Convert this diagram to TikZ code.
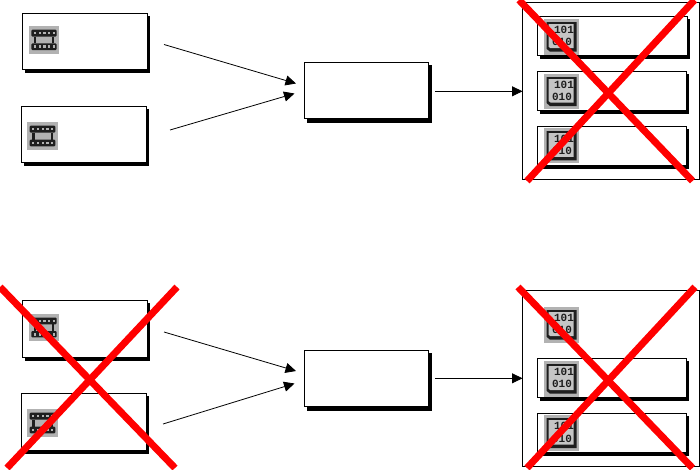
\documentclass[tikz,border=0pt]{standalone}
\usepackage{fontspec}
\setmonofont{Liberation Mono}
\usetikzlibrary{arrows.meta}
\definecolor{icongray}{HTML}{B2B2B2}
\definecolor{icondark}{HTML}{1E1E1E}
\tikzset{
  boxrect/.style={draw=black,line width=0.9pt,fill=white,rectangle,anchor=north west,inner sep=0pt,outer sep=0pt},
  shadowrect/.style={fill=black},
  flow/.style={draw=black,line width=0.8pt,-{Triangle[length=10.5pt,width=10pt]}},
  cross/.style={draw=red,line width=7pt,line cap=butt},
  bittext/.style={font=\ttfamily\bfseries\fontsize{11}{11}\selectfont,text=icondark,inner sep=0pt,outer sep=0pt},
}
% name, x1, y1, x2, y2, shadow right, shadow bottom
\newcommand{\shadowbox}[7]{%
  \fill[shadowrect] (#2+2.5,#3+2.5) rectangle (#6+0.3,#7+0.3);
  \pgfmathsetmacro{\bw}{#4-#2}\pgfmathsetmacro{\bh}{#5-#3}%
  \node[boxrect,minimum width=\bw pt,minimum height=\bh pt] (#1) at (#2,#3) {};
}
% film icon: x1, y1, x2, y2
\newcommand{\filmicon}[4]{%
  \begin{scope}[shift={(#1,#2)}]
    \pgfmathsetmacro{\iw}{#3-#1}\pgfmathsetmacro{\ih}{#4-#2}%
    \fill[icongray] (0,0) rectangle (\iw,\ih);
    \pgfmathsetmacro{\ta}{0.13*\ih}\pgfmathsetmacro{\tb}{0.38*\ih}%
    \pgfmathsetmacro{\ba}{0.63*\ih}\pgfmathsetmacro{\bb}{0.87*\ih}%
    \fill[icondark,rounded corners=1pt] (2.7,\ta) rectangle (\iw-2.7,\tb);
    \fill[icondark,rounded corners=1pt] (2.7,\ba) rectangle (\iw-2.7,\bb);
    \fill[icondark] (5,\tb) rectangle (7.5,\ba);
    \fill[icondark] (\iw-7.5,\tb) rectangle (\iw-5,\ba);
    \foreach \k in {0,1,2,3,4}{
      \fill[icongray] (5.3+\k*4.7,\ta+2) rectangle ++(2.1,2.6);
      \fill[icongray] (5.3+\k*4.7,\ba+2) rectangle ++(2.1,2.6);
    }
  \end{scope}
}
% bits icon: name, x1, y1, x2, y2
\newcommand{\bitsicon}[5]{%
  \begin{scope}[shift={(#2,#3)}]
    \pgfmathsetmacro{\iw}{#4-#2}\pgfmathsetmacro{\ih}{#5-#3}%
    \fill[icongray] (0,0) rectangle (\iw,\ih);
    \fill[icondark] (2.5,3) -- (\iw-2.5,3) -- (\iw-2.5,\ih-3) -- (6,\ih-3) -- (2.5,\ih-6) -- cycle;
    \fill[icongray!75!white] (4.5,5) -- (\iw-5.5,5) -- (\iw-5.5,\ih-6.5) -- (6.5,\ih-6.5) -- (4.5,\ih-8) -- cycle;
    \node[bittext] (#1a) at (\iw/2+2.5,\ih*0.31) {101};
    \node[bittext] (#1b) at (\iw/2+0.5,\ih*0.65) {010};
  \end{scope}
}
\begin{document}
\begin{tikzpicture}[x=1pt,y=-1pt]
\useasboundingbox (0,0) rectangle (700,469);
\fill[white] (0,0) rectangle (700,469);

% --- upper diagram
\shadowbox{srcA}{22.3}{13.3}{147.7}{69.3}{150}{72.3}
\filmicon{28.7}{26}{59.3}{53.7}
\shadowbox{srcB}{21.3}{106.3}{146.7}{162.7}{149}{165.3}
\filmicon{27}{122}{58}{150}
\shadowbox{mid}{304.3}{62.3}{428.7}{118.7}{432}{122.3}
\node[boxrect,minimum width=177pt,minimum height=176.8pt] (cont) at (522.5,2.5) {};
\shadowbox{outA}{537.3}{16.3}{687.3}{55.3}{690}{58.7}
\bitsicon{bA}{544}{19}{579}{54.7}
\shadowbox{outB}{537.3}{71.3}{686.7}{110.7}{689}{113.7}
\bitsicon{bB}{544}{74}{579}{109}
\shadowbox{outC}{537.3}{126.3}{686.7}{165}{689}{168.7}
\bitsicon{bC}{544}{128}{579}{163.3}

\coordinate (s1) at (164,44.5);  \coordinate (t1) at (296,83.5);
\coordinate (s2) at (170,130);   \coordinate (t2) at (294.5,93.5);
\coordinate (s3) at (435,91.3);  \coordinate (t3) at (522.5,91.3);
\draw[flow] (s1) -- (t1);
\draw[flow] (s2) -- (t2);
\draw[flow] (s3) -- (t3);

\coordinate (xa) at (519,0);   \coordinate (xb) at (692.5,181);
\coordinate (xc) at (694.5,0); \coordinate (xd) at (527,181);
\draw[cross] (xa) -- (xb);
\draw[cross] (xc) -- (xd);

% --- lower diagram
\shadowbox{srcC}{22.3}{300.3}{147.7}{357.3}{150}{360.7}
\filmicon{28.7}{314}{59.3}{341}
\shadowbox{srcD}{21.3}{393.3}{146.7}{450}{149}{453.7}
\filmicon{27}{409}{58}{437}
\shadowbox{midB}{304.3}{350.3}{428.7}{406.7}{432}{410.3}
\node[boxrect,minimum width=177pt,minimum height=176pt] (contB) at (522.5,290.3) {};
\bitsicon{bD}{544}{307}{579}{342.7}
\shadowbox{outD}{537.3}{358.3}{686.7}{397.3}{689}{400.7}
\bitsicon{bE}{544}{361}{579}{396.7}
\shadowbox{outE}{537.3}{413.3}{686.7}{452.3}{689}{456}
\bitsicon{bF}{544}{415}{579}{451}

\coordinate (s4) at (164,332);   \coordinate (t4) at (296,371);
\coordinate (s5) at (163,424);   \coordinate (t5) at (294.5,383.5);
\coordinate (s6) at (435,378.3); \coordinate (t6) at (522.5,378.3);
\draw[flow] (s4) -- (t4);
\draw[flow] (s5) -- (t5);
\draw[flow] (s6) -- (t6);

\coordinate (ya) at (0,287);     \coordinate (yb) at (175,468);
\coordinate (yc) at (177,287);   \coordinate (yd) at (7,468);
\draw[cross] (ya) -- (yb);
\draw[cross] (yc) -- (yd);

\coordinate (za) at (518,287);   \coordinate (zb) at (692.5,468);
\coordinate (zc) at (695,287);   \coordinate (zd) at (527,468);
\draw[cross] (za) -- (zb);
\draw[cross] (zc) -- (zd);
\end{tikzpicture}
\end{document}
